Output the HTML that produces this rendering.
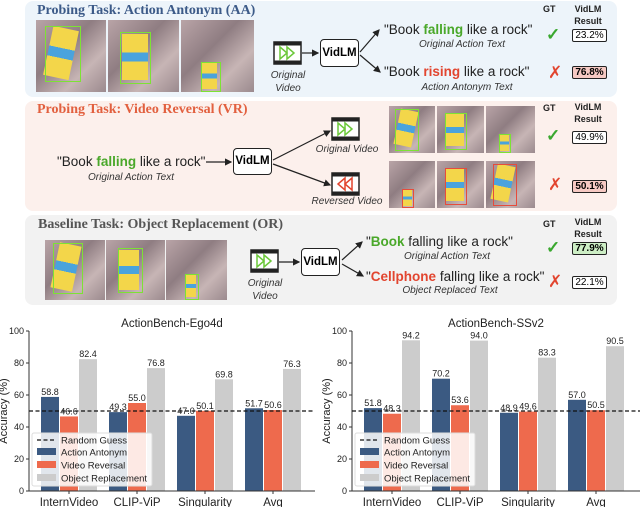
<!DOCTYPE html>
<html><head><meta charset="utf-8">
<style>
body{margin:0;width:640px;height:507px;background:#fff;overflow:hidden;font-family:"Liberation Sans",sans-serif;position:relative}
.abs{position:absolute}
.panel{position:absolute;left:25px;width:592px;border-radius:8px}
.ttl{position:absolute;font-family:"Liberation Serif",serif;font-weight:bold;font-size:14px;white-space:nowrap;line-height:16px}
.t{position:absolute;white-space:nowrap;font-size:13.5px;color:#222;line-height:16px}
.it{position:absolute;white-space:nowrap;font-style:italic;font-size:10px;color:#333;transform:translateX(-50%);line-height:12px}
.box{position:absolute;border:1.2px solid #222;border-radius:2px;background:#fff;font-size:10px;text-align:center;line-height:11px;width:33px;height:11px}
.vid{position:absolute;border:1.5px solid #222;border-radius:4px;background:#fff;font-weight:bold;font-size:11.5px;text-align:center}
.gt{position:absolute;font-weight:bold;font-size:9px;color:#222;text-align:center;line-height:12px}
.ok{position:absolute;color:#3aa82f;font-size:17px;font-weight:bold;line-height:20px}
.no{position:absolute;color:#e2452f;font-size:17px;line-height:20px}
.frame{position:absolute;background:linear-gradient(135deg,#b9a4a7,#8f7d82 40%,#c7b5b5 70%,#9b8a8e);overflow:hidden}
.book{position:absolute;background:linear-gradient(#f3d64a 0 40%,#4aa3dd 40% 60%,#f3d64a 60%)}
.gb{position:absolute;border:1.5px solid #7de234}
.rb{position:absolute;border:1.5px solid #e64c3c}
</style></head><body>
<svg width="0" height="0" style="position:absolute"><defs>
<marker id="ah" markerWidth="6" markerHeight="6" refX="5" refY="3" orient="auto"><path d="M0,0L6,3L0,6z" fill="#222"/></marker></defs></svg>

<div class="panel" style="top:1px;height:96px;background:#edf4fa"></div>
<div class="panel" style="top:101px;height:110px;background:#fcf0ec"></div>
<div class="panel" style="top:215px;height:90px;background:#f2f2f2"></div>

<!-- Panel 1 -->
<div class="ttl" style="left:37px;top:3px;color:#3c5a88">Probing Task: Action Antonym (AA)</div>
<div class="frame" style="left:36px;top:20px;width:70px;height:72px"><div class="book" style="left:12px;top:8px;width:26px;height:50px;transform:rotate(12deg)"></div><div class="gb" style="left:9px;top:6px;width:34px;height:54px"></div></div>
<div class="frame" style="left:108px;top:20px;width:71px;height:72px"><div class="book" style="left:14px;top:14px;width:26px;height:46px"></div><div class="gb" style="left:12px;top:12px;width:29px;height:50px"></div></div>
<div class="frame" style="left:181px;top:20px;width:73px;height:72px"><div class="book" style="left:21px;top:43px;width:15px;height:26px"></div><div class="gb" style="left:20px;top:42px;width:18px;height:28px"></div></div>

<svg class="abs" style="left:0;top:0" width="640" height="310">
<g fill="none" stroke="#222" stroke-width="1.2">
<line x1="302" y1="53" x2="318" y2="53" marker-end="url(#ah)"/>
<line x1="360" y1="52" x2="379" y2="30" marker-end="url(#ah)"/>
<line x1="360" y1="55" x2="380" y2="72" marker-end="url(#ah)"/>
<line x1="206" y1="162" x2="231" y2="162" marker-end="url(#ah)"/>
<line x1="273" y1="160" x2="330" y2="131" marker-end="url(#ah)"/>
<line x1="273" y1="164" x2="330" y2="185" marker-end="url(#ah)"/>
<line x1="279" y1="262" x2="299" y2="262" marker-end="url(#ah)"/>
<line x1="342" y1="260" x2="362" y2="242" marker-end="url(#ah)"/>
<line x1="342" y1="264" x2="363" y2="276" marker-end="url(#ah)"/>
</g>
<g>
<rect x="274" y="42" width="27" height="22" fill="#fff" stroke="#222" stroke-width="1.5"/><rect x="274" y="42" width="27" height="3.5" fill="#222"/><rect x="274" y="60.5" width="27" height="3.5" fill="#222"/><path d="M280,47l7,6l-7,6zM287,47l7,6l-7,6z" fill="none" stroke="#6cc83a" stroke-width="1.5"/>
<rect x="332" y="118" width="27" height="22" fill="#fff" stroke="#222" stroke-width="1.5"/><rect x="332" y="118" width="27" height="3.5" fill="#222"/><rect x="332" y="136.5" width="27" height="3.5" fill="#222"/><path d="M338,123l7,6l-7,6zM345,123l7,6l-7,6z" fill="none" stroke="#6cc83a" stroke-width="1.5"/>
<rect x="332" y="173" width="27" height="22" fill="#fff" stroke="#222" stroke-width="1.5"/><rect x="332" y="173" width="27" height="3.5" fill="#222"/><rect x="332" y="191.5" width="27" height="3.5" fill="#222"/><path d="M345,178l-7,6l7,6zM352,178l-7,6l7,6z" fill="none" stroke="#e2452f" stroke-width="1.5"/>
<rect x="251" y="250" width="27" height="22" fill="#fff" stroke="#222" stroke-width="1.5"/><rect x="251" y="250" width="27" height="3.5" fill="#222"/><rect x="251" y="268.5" width="27" height="3.5" fill="#222"/><path d="M257,255l7,6l-7,6zM264,255l7,6l-7,6z" fill="none" stroke="#6cc83a" stroke-width="1.5"/>
</g>
</svg>
<div class="it" style="left:288px;top:69px;text-align:center;line-height:13px">Original<br>Video</div>
<div class="vid" style="left:320px;top:39px;width:37px;height:26px;line-height:26px">VidLM</div>
<div class="t" style="left:384px;top:22px">"Book <b style="color:#4aa82a">falling</b> like a rock"</div>
<div class="it" style="left:462px;top:39px">Original Action Text</div>
<div class="t" style="left:384px;top:64px">"Book <b style="color:#e2452f">rising</b> like a rock"</div>
<div class="it" style="left:467px;top:82px">Action Antonym Text</div>
<div class="gt" style="left:543px;top:3px">GT</div>
<div class="gt" style="left:568px;top:3px;width:40px">VidLM<br>Result</div>
<div class="ok" style="left:546px;top:25px">✓</div>
<div class="box" style="left:572px;top:29px">23.2%</div>
<div class="no" style="left:548px;top:63px">✗</div>
<div class="box" style="left:572px;top:66px;background:#f6c9c3;font-weight:bold">76.8%</div>

<!-- Panel 2 -->
<div class="ttl" style="left:37px;top:102px;color:#e2603f">Probing Task: Video Reversal (VR)</div>
<div class="t" style="left:57px;top:154px">"Book <b style="color:#4aa82a">falling</b> like a rock"</div>
<div class="it" style="left:131px;top:172px">Original Action Text</div>
<div class="vid" style="left:233px;top:148px;width:37px;height:25px;line-height:25px">VidLM</div>
<div class="it" style="left:347px;top:144px">Original Video</div>
<div class="it" style="left:347px;top:196px">Reversed Video</div>
<div class="frame" style="left:389px;top:106px;width:46px;height:47px"><div class="book" style="left:8px;top:4px;width:18px;height:36px;transform:rotate(12deg)"></div><div class="gb" style="left:6px;top:3px;width:22px;height:40px"></div></div>
<div class="frame" style="left:437px;top:106px;width:47px;height:47px"><div class="book" style="left:9px;top:8px;width:18px;height:32px"></div><div class="gb" style="left:8px;top:7px;width:20px;height:35px"></div></div>
<div class="frame" style="left:486px;top:106px;width:49px;height:47px"><div class="book" style="left:14px;top:29px;width:9px;height:16px"></div><div class="gb" style="left:13px;top:28px;width:10px;height:17px"></div></div>
<div class="frame" style="left:389px;top:161px;width:46px;height:47px"><div class="book" style="left:14px;top:29px;width:9px;height:16px"></div><div class="rb" style="left:13px;top:28px;width:10px;height:17px"></div></div>
<div class="frame" style="left:437px;top:161px;width:47px;height:47px"><div class="book" style="left:9px;top:8px;width:18px;height:32px"></div><div class="rb" style="left:8px;top:7px;width:20px;height:35px"></div></div>
<div class="frame" style="left:486px;top:161px;width:49px;height:47px"><div class="book" style="left:8px;top:4px;width:18px;height:36px;transform:rotate(12deg)"></div><div class="rb" style="left:7px;top:3px;width:22px;height:40px"></div></div>
<div class="gt" style="left:543px;top:102px">GT</div>
<div class="gt" style="left:568px;top:101px;width:40px">VidLM<br>Result</div>
<div class="ok" style="left:546px;top:126px">✓</div>
<div class="box" style="left:572px;top:131px">49.9%</div>
<div class="no" style="left:548px;top:175px">✗</div>
<div class="box" style="left:572px;top:180px;background:#f6c9c3;font-weight:bold">50.1%</div>

<!-- Panel 3 -->
<div class="ttl" style="left:38px;top:217px;color:#555">Baseline Task: Object Replacement (OR)</div>
<div class="frame" style="left:45px;top:240px;width:60px;height:60px"><div class="book" style="left:10px;top:4px;width:22px;height:46px;transform:rotate(12deg)"></div><div class="gb" style="left:8px;top:3px;width:28px;height:49px"></div></div>
<div class="frame" style="left:106px;top:240px;width:59px;height:60px"><div class="book" style="left:13px;top:10px;width:20px;height:40px"></div><div class="gb" style="left:12px;top:8px;width:23px;height:43px"></div></div>
<div class="frame" style="left:166px;top:240px;width:61px;height:60px"><div class="book" style="left:20px;top:35px;width:10px;height:22px"></div><div class="gb" style="left:19px;top:34px;width:12px;height:24px"></div></div>
<div class="it" style="left:265px;top:277px;text-align:center;line-height:13px">Original<br>Video</div>
<div class="vid" style="left:301px;top:248px;width:37px;height:26px;line-height:26px">VidLM</div>
<div class="t" style="left:366px;top:234px">"<b style="color:#4aa82a">Book</b> falling like a rock"</div>
<div class="it" style="left:447px;top:251px">Original Action Text</div>
<div class="t" style="left:366px;top:269px">"<b style="color:#e2452f">Cellphone</b> falling like a rock"</div>
<div class="it" style="left:450px;top:285px">Object Replaced Text</div>
<div class="gt" style="left:543px;top:218px">GT</div>
<div class="gt" style="left:568px;top:216px;width:40px">VidLM<br>Result</div>
<div class="ok" style="left:546px;top:238px">✓</div>
<div class="box" style="left:572px;top:242px;background:#cdeec5;font-weight:bold">77.9%</div>
<div class="no" style="left:548px;top:272px">✗</div>
<div class="box" style="left:572px;top:276px">22.1%</div>

<!-- charts -->
<svg id="charts" class="abs" style="left:0;top:300px" width="640" height="207"></svg>
<script>
const categories=["InternVideo","CLIP-ViP","Singularity","Avg"];
const ego4dAA=[58.8,49.3,47.0,51.7];
const ego4dVR=[46.6,55.0,50.1,50.6];
const ego4dOR=[82.4,76.8,69.8,76.3];
const ssv2AA=[51.8,70.2,48.9,57.0];
const ssv2VR=[48.3,53.6,49.6,50.5];
const ssv2OR=[94.2,94.0,83.3,90.5];
const yTicks=[0,20,40,60,80,100];
const randomGuess=50;
const seriesNames=["Action Antonym","Video Reversal","Object Replacement"];
const colors=["#3b5a82","#ee6a4d","#cccccc"];
const svg=document.getElementById('charts');
const NS='http://www.w3.org/2000/svg';
function mk(tag,attrs,text){const e=document.createElementNS(NS,tag);for(const k in attrs)e.setAttribute(k,attrs[k]);if(text!==undefined)e.textContent=text;svg.appendChild(e);return e;}
function chart(x0,x1,title,series,key){
  const yTop=31,yBot=191;
  const y=v=>yBot-(v/100)*(yBot-yTop);
  const cx=i=>x0+40+i*68;
  let t=mk('text',{x:(x0+x1)/2,y:27,'text-anchor':'middle','font-size':'11.5','fill':'#222'},title);
  
  
  series.forEach((vals,s)=>{vals.forEach((v,i)=>{
    const bx=cx(i)+(s-1)*19-9;
    let r=mk('rect',{x:bx,y:y(v),width:18,height:yBot-y(v),fill:colors[s]});
    
    
    let l=mk('text',{x:bx+9,y:y(v)-2,'text-anchor':'middle','font-size':'9','fill':'#222'},v.toFixed(1));
    
    
  });});
  let ax=mk('path',{d:`M${x0},${yTop}V${yBot}H${x1}`,fill:'none',stroke:'#333','stroke-width':'1'});
  
  
  yTicks.forEach(v=>{mk('line',{x1:x0-3,x2:x0,y1:y(v),y2:y(v),stroke:'#333'});
    let tl=mk('text',{x:x0-5,y:y(v)+3,'text-anchor':'end','font-size':'9','fill':'#222'},v);
    
    });
  categories.forEach((c,i)=>{mk('line',{x1:cx(i),x2:cx(i),y1:yBot,y2:yBot+3,stroke:'#333'});
    let cl=mk('text',{x:cx(i),y:yBot+15,'text-anchor':'middle','font-size':'11.5','fill':'#222'},c);
    
    });
  let yt=mk('text',{x:0,y:0,'text-anchor':'middle','font-size':'11','fill':'#222',transform:`translate(${x0-22},${(yTop+yBot)/2}) rotate(-90)`},'Accuracy (%)');
  
  
  let rg=mk('line',{x1:x0,x2:x1,y1:y(randomGuess),y2:y(randomGuess),stroke:'#111','stroke-width':'1.3','stroke-dasharray':'4,2.5'});
  
  
  const lx=x0+3,ly=133;
  let lg=mk('rect',{x:lx,y:ly,width:120,height:53,fill:'#fff','fill-opacity':'0.85',stroke:'#ddd',rx:2});
  
  
  mk('line',{x1:lx+5,x2:lx+24,y1:ly+7,y2:ly+7,stroke:'#111','stroke-width':'1.3','stroke-dasharray':'4,2.5'});
  let e0=mk('text',{x:lx+29,y:ly+10.5,'font-size':'9.5','fill':'#222'},'Random Guess');
  
  
  seriesNames.forEach((n,s)=>{mk('rect',{x:lx+5,y:ly+15+s*13,width:19,height:7,fill:colors[s]});
    let e=mk('text',{x:lx+29,y:ly+22.5+s*13,'font-size':'9.5','fill':'#222'},n);
    
    });
}
chart(29,315,'ActionBench-Ego4d',[ego4dAA,ego4dVR,ego4dOR],'ego4d');
chart(352,640,'ActionBench-SSv2',[ssv2AA,ssv2VR,ssv2OR],'ssv2');
</script>
</body></html>
